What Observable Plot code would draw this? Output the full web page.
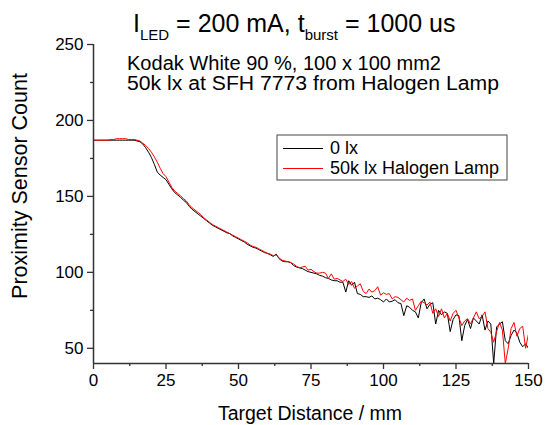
<!DOCTYPE html>
<html>
<head>
<meta charset="utf-8">
<script src="https://cdn.jsdelivr.net/npm/d3@7"></script>
<script src="https://cdn.jsdelivr.net/npm/@observablehq/plot@0.6"></script>
<style>
  html, body { margin: 0; padding: 0; background: #fff; }
  #wrap { position: relative; width: 549px; height: 425px; overflow: hidden; }
  #overlay { position: absolute; left: 0; top: 0; pointer-events: none; }
  text { font-family: Arial, "Liberation Sans", sans-serif; }
</style>
</head>
<body>
<div id="wrap">
  <div id="chart"></div>
  <svg id="overlay" width="549" height="425">
    <text x="133" y="32" font-size="25"><tspan>I</tspan><tspan font-size="15" dy="8">LED</tspan><tspan dy="-8"> = 200 mA, t</tspan><tspan font-size="15" dy="8">burst</tspan><tspan dy="-8"> = 1000 us</tspan></text>
    <text x="127" y="70" font-size="20" textLength="314" lengthAdjust="spacingAndGlyphs">Kodak White 90 %, 100 x 100 mm2</text>
    <text x="127" y="90" font-size="20" textLength="372" lengthAdjust="spacingAndGlyphs">50k lx at SFH 7773 from Halogen Lamp</text>
    <text x="310" y="420" font-size="19.5" text-anchor="middle">Target Distance / mm</text>
    <text transform="translate(27,186) rotate(-90)" font-size="21.5" text-anchor="middle">Proximity Sensor Count</text>
    <rect x="277" y="135" width="230" height="45" fill="#fff" stroke="#444" stroke-width="1"></rect>
    <line x1="283" x2="323" y1="148.5" y2="148.5" stroke="#000" stroke-width="1"></line>
    <line x1="283" x2="323" y1="168.5" y2="168.5" stroke="#ff0000" stroke-width="1"></line>
    <text x="330" y="154" font-size="18">0 lx</text>
    <text x="330" y="174" font-size="18">50k lx Halogen Lamp</text>
  </svg>
</div>
<script>
// Target distance (mm)
const distance = [
  0,1,2,3,4,5,6,7,8,9,
  10,11,12,13,14,15,16,17,18,19,
  20,21,22,23,24,25,26,27,28,29,
  30,31,32,33,34,35,36,37,38,39,
  40,41,42,43,44,45,46,47,48,49,
  50,51,52,53,54,55,56,57,58,59,
  60,61,62,63,64,65,66,67,68,69,
  70,71,72,73,74,75,76,77,78,79,
  80,81,82,83,84,85,86,87,88,89,
  90,91,92,93,94,95,96,97,98,99,
  100,101,102,103,104,105,106,107,108,109,
  110,111,112,113,114,115,116,117,118,119,
  120,121,122,123,124,125,126,127,128,129,
  130,131,132,133,134,135,136,137,138,139,
  140,141,142,143,144,145,146,147,148,149,
  150
];
// Proximity sensor count, 0 lx (black)
const count0lx = [
  187,187,187,187,187,187,187,187,187,187,
  187,187,187,187,187,186.5,186,184.5,182,179,
  175.5,171,166,164,162.5,161,158,155,152.5,151,
  149.5,147.5,146,143.5,141.5,140,138.5,137,135.5,134,
  132.5,131,130,129,128,127,126,125.5,124,123,
  122,121,120,118.5,117.5,116.5,116,115,114,113,
  112.5,111.5,110.5,112,109,107.5,107,107,106.5,104.5,
  103.5,103,102.5,101.5,100.5,100,99.5,99,98,97.5,
  96.5,96,95,94.5,94.5,93.5,93.5,87,94.5,91.5,
  93.5,86,85.5,84,84,83.5,84.5,82.5,83,82,
  80.5,82.5,80.5,81,82,80,79.5,71.5,78,77,
  75,74,70,80,82.5,76,79,80,66,75,
  72,74,73,61,69,72,71.5,55,65,69,
  63,70,68,66,72,62,68,66,40,64,
  66,67.5,55,53,58.5,62,60,54,51,53,
  50
];
// Proximity sensor count, 50k lx halogen lamp (red)
const count50klx = [
  187,187,187,187,187,187,187.5,187.5,188,188,
  188,188,187.5,187.5,187.5,187,186.5,185,183.5,181.5,
  179,176,172.5,168.5,165,163,159.5,156,153.5,152,
  150.5,148.5,147,144.5,142.5,141,139.5,138,136,134.5,
  133,131.5,130.5,129.5,128.5,127.5,126.5,125.5,124.5,123.5,
  122.5,121.5,120.5,119.5,118,117,116.5,115.5,114.5,113.5,
  112.5,112,111,111.5,109.5,108,107.5,107,106.5,105.5,
  104,103,103.5,104,101.5,102,100.5,99.5,99.5,100,
  99.5,96,99,95.5,96,95,94,95.5,92,94,
  89.5,91,92.5,87.5,86,89,87,88,90.5,85,
  86.5,85.5,86,82.5,84,83.5,82,80.5,83,81.5,
  82.5,75,78,81,80,78.5,80.5,73,76,71,
  76,70,73,68,73,75,70,65,68,69.5,
  66,70,74,69.5,71,74,63,60.5,54,61,
  67,62,40,50,63,67,58,63,64.5,50,
  59.5
];
const xMajorTicks = [0,25,50,75,100,125,150];
const xMinorTicks = [12.5,37.5,62.5,87.5,112.5,137.5];
const yMajorTicks = [50,100,150,200,250];
const yMinorTicks = [75,125,175,225];

const rows0 = distance.map((x, i) => ({x, y: count0lx[i]}));
const rows1 = distance.map((x, i) => ({x, y: count50klx[i]}));

const chart = Plot.plot({
  width: 549,
  height: 425,
  marginLeft: 93,
  marginRight: 21,
  marginTop: 44,
  marginBottom: 62,
  style: {fontFamily: "Arial, 'Liberation Sans', sans-serif", fontSize: "17px", color: "#000", background: "#fff"},
  x: {domain: [0, 150]},
  y: {domain: [40, 250]},
  marks: [
    Plot.line(rows0, {x: "x", y: "y", stroke: "#000", strokeWidth: 1, clip: true}),
    Plot.line(rows1, {x: "x", y: "y", stroke: "#ff0000", strokeWidth: 1, clip: true}),
    Plot.axisX(xMajorTicks, {tickSize: 6, tickPadding: 4, label: null, stroke: "#333", strokeWidth: 1.3}),
    Plot.axisX(xMinorTicks, {tickSize: 3, tickFormat: () => "", label: null, stroke: "#333", strokeWidth: 1.3}),
    Plot.axisY(yMajorTicks, {tickSize: 6, tickPadding: 4, label: null, stroke: "#333", strokeWidth: 1.3}),
    Plot.axisY(yMinorTicks, {tickSize: 3, tickFormat: () => "", label: null, stroke: "#333", strokeWidth: 1.3}),
    Plot.ruleX([0], {stroke: "#333", strokeWidth: 1.5}),
    Plot.ruleY([40], {stroke: "#333", strokeWidth: 1.5})
  ]
});
document.getElementById("chart").appendChild(chart);
</script>
</body>
</html>
